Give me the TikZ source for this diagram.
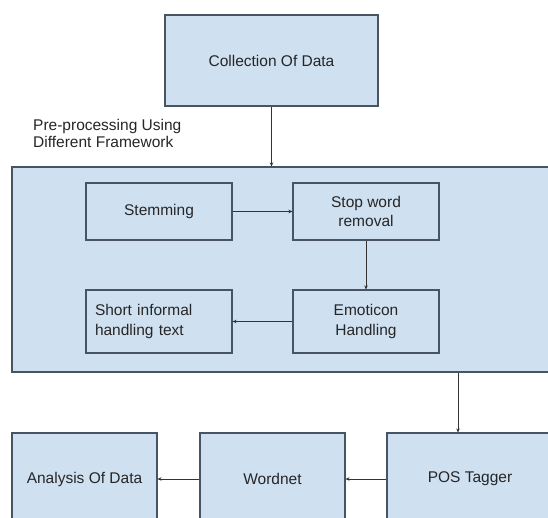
\documentclass[tikz,border=0pt]{standalone}
\usepackage{fontspec}
\setmainfont{Liberation Sans}
\usepackage{xcolor}
\usepackage{tikz}
\usetikzlibrary{arrows.meta}

\definecolor{boxfill}{RGB}{207,224,241}
\definecolor{boxline}{RGB}{72,84,98}

\begin{document}
\begin{tikzpicture}[x=1pt,y=-1pt,
    box/.style={draw=boxline,line width=1.1pt,fill=boxfill,inner sep=0pt,align=center,
                font=\fontsize{15.5}{19.5}\selectfont,text=black!85},
    flow/.style={-{Stealth[length=4pt,width=3.5pt]},line width=0.8pt,draw=black!80}]
    \useasboundingbox (0,0) rectangle (548,518);
    \clip (0,0) rectangle (548,518);

    \node[box,minimum width=213,minimum height=91] (collect) at (271.5,60.5) {Collection Of Data};

    % pre-processing block
    \node[box,minimum width=548,minimum height=205] (pre) at (286,269.5) {};
    \node[anchor=north west,align=left,inner sep=0pt,font=\fontsize{15.5}{17.5}\selectfont,text=black!85]
        (prelabel) at (33,119) {Pre-processing Using\\Different Framework};

    \node[box,minimum width=146,minimum height=57] (stem) at (159,211.5) {Stemming};
    \node[box,minimum width=146,minimum height=57] (stop) at (366,211.5) {Stop word\\removal};
    \node[box,minimum width=146,minimum height=63] (emo) at (366,321.5) {Emoticon\\Handling};
    \node[box,minimum width=146,minimum height=63,text width=128,inner xsep=9pt,align=left]
        (short) at (159,321.5) {Short informal\\handling text};

    % bottom row
    \node[box,minimum width=145,minimum height=92] (analysis) at (84.5,479) {Analysis Of Data};
    \node[box,minimum width=145,minimum height=92] (wordnet) at (272.5,479) {Wordnet};
    \node[box,minimum width=166,minimum height=92] (pos) at (470,479) {POS Tagger};

    % Flow arrows
    \draw[flow] (collect) -- (collect |- pre.north);
    \draw[flow] (stem) -- (stop);
    \draw[flow] (stop) -- (emo);
    \draw[flow] (emo) -- (short);
    \draw[flow] ([xshift=-12pt]pos.north |- pre.south) -- ([xshift=-12pt]pos.north);
    \draw[flow] (pos) -- (wordnet);
    \draw[flow] (wordnet) -- (analysis);
\end{tikzpicture}
\end{document}
